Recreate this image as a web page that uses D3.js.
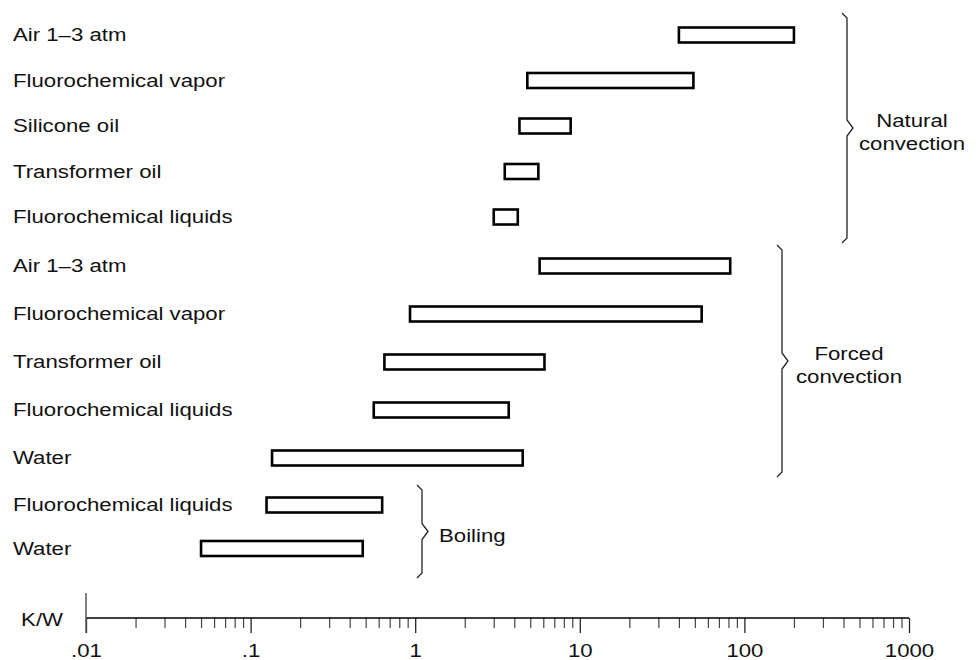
<!DOCTYPE html>
<html>
<head>
<meta charset="utf-8">
<script src="https://cdn.jsdelivr.net/npm/d3@7"></script>
<style>
  html, body { margin: 0; padding: 0; background: #fff; }
  svg { display: block; }
  text { font-family: "Liberation Sans", Arial, Helvetica, sans-serif; fill: #111; }
</style>
</head>
<body>
<div id="chart"></div>
<script>
// rows, top to bottom
const CATEGORIES = [
  "Air 1–3 atm",
  "Fluorochemical vapor",
  "Silicone oil",
  "Transformer oil",
  "Fluorochemical liquids",
  "Air 1–3 atm",
  "Fluorochemical vapor",
  "Transformer oil",
  "Fluorochemical liquids",
  "Water",
  "Fluorochemical liquids",
  "Water"
];
const GROUPS = [
  "natural", "natural", "natural", "natural", "natural",
  "forced", "forced", "forced", "forced", "forced",
  "boiling", "boiling"
];
// range of thermal resistance, K/W
const LOW_VALUES = [40, 4.8, 4.3, 3.5, 3.0, 5.7, 0.93, 0.65, 0.56, 0.135, 0.125, 0.05];
const HIGH_VALUES = [200, 49, 8.8, 5.6, 4.2, 82, 55, 6.1, 3.7, 4.5, 0.63, 0.48];

const GROUP_KEYS = ["natural", "forced", "boiling"];
const GROUP_LABELS = [["Natural", "convection"], ["Forced", "convection"], ["Boiling"]];

const TICK_VALUES = [0.01, 0.1, 1, 10, 100, 1000];
const TICK_LABELS = [".01", ".1", "1", "10", "100", "1000"];
const AXIS_TITLE = "K/W";

const WIDTH = 978, HEIGHT = 660;
const FONT_SIZE = 18.5;
const STRETCH = "scale(1.2,1)";   // the lettering in the original is wide
const AXIS_Y = 618;

// where each group sits on the page
const LAYOUT = {
  natural: { rows: [35, 217], brace: [13, 243], braceX: 847, labelX: 912, anchor: "middle" },
  forced: { rows: [266, 458], brace: [245, 477], braceX: 782, labelX: 849, anchor: "middle" },
  boiling: { rows: [505, 548.5], brace: [485, 578], braceX: 422, labelX: 439, anchor: "start" }
};

const rows = CATEGORIES.map((name, i) => ({
  name, i, group: GROUPS[i], low: LOW_VALUES[i], high: HIGH_VALUES[i]
}));

const x = d3.scaleLog().domain([0.01, 1000]).range([86, 909]);

const yScales = {};
GROUP_KEYS.forEach(g => {
  yScales[g] = d3.scalePoint()
    .domain(rows.filter(r => r.group === g).map(r => r.i))
    .range(LAYOUT[g].rows);
});
const y = r => yScales[r.group](r.i);

const svg = d3.select("#chart")
  .append("svg")
  .attr("width", WIDTH)
  .attr("height", HEIGHT);

// bars
svg.append("g")
  .selectAll("rect")
  .data(rows)
  .enter()
  .append("rect")
  .attr("x", d => x(d.low))
  .attr("y", d => y(d) - 7.5)
  .attr("width", d => x(d.high) - x(d.low))
  .attr("height", 15)
  .attr("fill", "#fff")
  .attr("stroke", "#000")
  .attr("stroke-width", 2.6);

// row labels
svg.append("g")
  .selectAll("text")
  .data(rows)
  .enter()
  .append("text")
  .attr("transform", d => `translate(13,${y(d)}) ${STRETCH}`)
  .attr("dy", "0.35em")
  .style("font-size", FONT_SIZE + "px")
  .text(d => d.name);

// braces + group names
GROUP_KEYS.forEach((g, gi) => {
  const L = LAYOUT[g];
  const bx = L.braceX, top = L.brace[0], bottom = L.brace[1];
  const mid = (top + bottom) / 2;
  const path = d3.path();
  path.moveTo(bx - 5, top);
  path.lineTo(bx, top + 5);
  path.lineTo(bx, mid - 8);
  path.lineTo(bx + 6, mid);
  path.lineTo(bx, mid + 8);
  path.lineTo(bx, bottom - 5);
  path.lineTo(bx - 5, bottom);
  svg.append("path")
    .attr("d", path.toString())
    .attr("fill", "none")
    .attr("stroke", "#222")
    .attr("stroke-width", 1.3);

  const lines = GROUP_LABELS[gi];
  svg.append("g")
    .selectAll("text")
    .data(lines)
    .enter()
    .append("text")
    .attr("transform", (d, i) => `translate(${L.labelX},${mid + 10 + (i - (lines.length - 1) / 2) * 23}) ${STRETCH}`)
    .attr("text-anchor", L.anchor)
    .style("font-size", FONT_SIZE + "px")
    .text(d => d);
});

// axis
const axisG = svg.append("g").attr("transform", `translate(0,${AXIS_Y})`);

const minorTicks = x.ticks().filter(v => !TICK_VALUES.some(t => Math.abs(t - v) < 1e-9));
axisG.append("g")
  .call(d3.axisBottom(x).tickValues(minorTicks).tickSize(10).tickFormat(""))
  .call(g => g.select(".domain").remove())
  .call(g => g.selectAll("line").attr("stroke", "#444").attr("stroke-width", 1.2));

axisG.append("g")
  .call(d3.axisBottom(x).tickValues(TICK_VALUES).tickSize(15).tickPadding(11)
    .tickFormat((d, i) => TICK_LABELS[i]))
  .call(g => g.select(".domain").remove())
  .call(g => g.selectAll("line").attr("stroke", "#222").attr("stroke-width", 1.3))
  .call(g => g.selectAll("text")
    .attr("transform", STRETCH)
    .style("font-size", FONT_SIZE + "px")
    .style("font-family", "\"Liberation Sans\", Arial, sans-serif")
    .attr("fill", "#111"));

axisG.append("line")
  .attr("x1", x.range()[0]).attr("x2", x.range()[1])
  .attr("stroke", "#000")
  .attr("stroke-width", 1.5);

axisG.append("line")
  .attr("x1", x(0.01)).attr("x2", x(0.01))
  .attr("y1", -25).attr("y2", 15)
  .attr("stroke", "#555")
  .attr("stroke-width", 1.5);

svg.append("text")
  .attr("transform", `translate(63,${AXIS_Y + 8}) ${STRETCH}`)
  .attr("text-anchor", "end")
  .style("font-size", FONT_SIZE + "px")
  .text(AXIS_TITLE);
</script>
</body>
</html>
